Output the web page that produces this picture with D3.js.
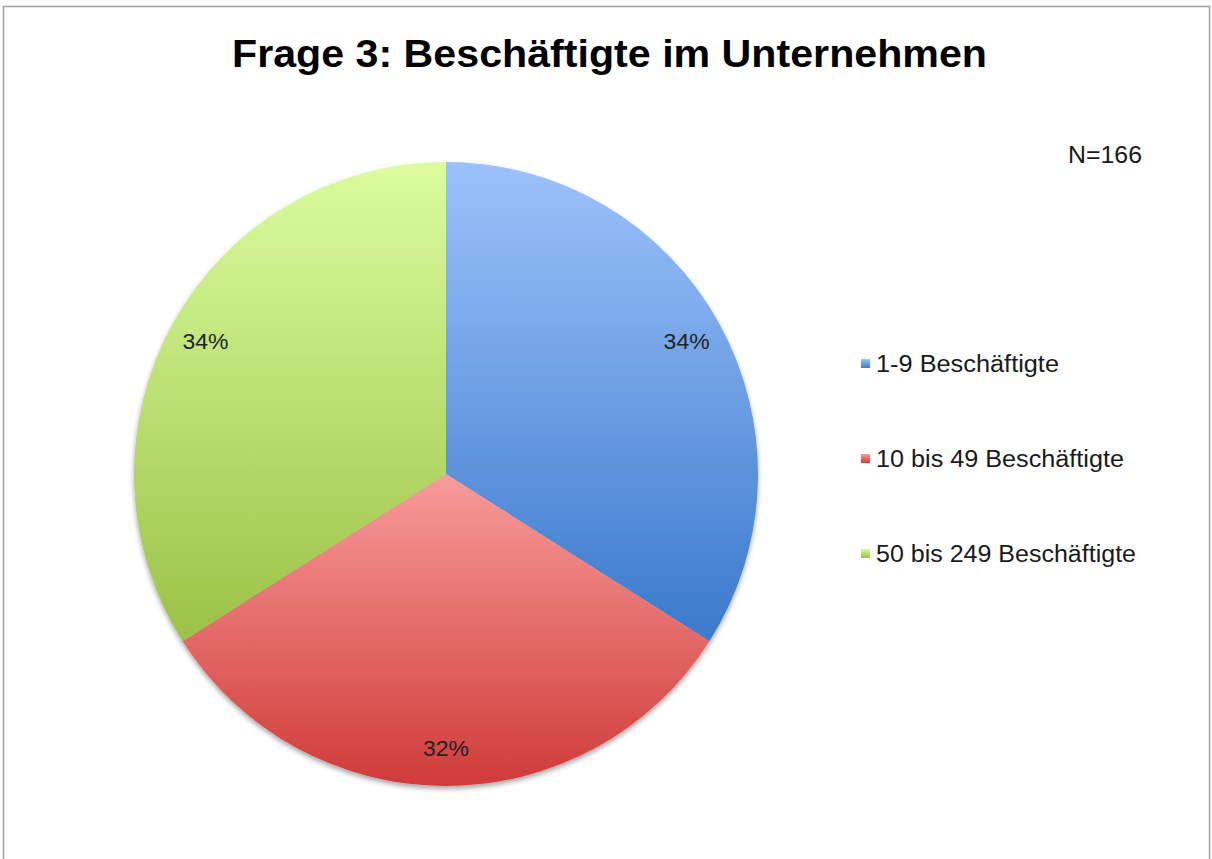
<html>
<head>
	<meta charset="utf-8">
	<title>Frage 3: Beschäftigte im Unternehmen</title>
	<script src="https://d3js.org/d3.v7.min.js"></script>
</head>
<body>
	<style> *{
		margin: 0px;
		padding: 0px;
	}
	body { background: #fff; }
	text { font-family: "Liberation Sans", Arial, sans-serif; }
	</style>

	<svg id="SVGcanvas" xmlns="http://www.w3.org/2000/svg" width="1212" height="859">
	</svg>

	<script>
	// chart data
	var categories = ["1-9 Beschäftigte", "10 bis 49 Beschäftigte", "50 bis 249 Beschäftigte"];
	var percentValues = [34, 32, 34];
	var titleText = "Frage 3: Beschäftigte im Unternehmen";
	var noteText = "N=166";

	// top / bottom colours of each slice gradient
	var topColors = ["#9cc2fa", "#f89c9a", "#dcfc9e"];
	var bottomColors = ["#3a79cc", "#cf3b39", "#9bc247"];

	var svg = d3.select( "#SVGcanvas" );
	var defs = svg.append( "defs" );

	// soft shadow under the pie
	var shadow = defs.append( "filter" ).attr( "id", "pieShadow" )
		.attr( "x", "-10%" ).attr( "y", "-10%" ).attr( "width", "120%" ).attr( "height", "120%" );
	shadow.append( "feDropShadow" )
		.attr( "dx", 0 ).attr( "dy", 3 ).attr( "stdDeviation", 2.5 )
		.attr( "flood-color", "#000" ).attr( "flood-opacity", 0.35 );

	categories.forEach( function ( c, i ) {
		var g = defs.append( "linearGradient" ).attr( "id", "grad" + i )
			.attr( "x1", 0 ).attr( "y1", 0 ).attr( "x2", 0 ).attr( "y2", 1 );
		g.append( "stop" ).attr( "offset", "0%" ).attr( "stop-color", topColors[i] );
		g.append( "stop" ).attr( "offset", "100%" ).attr( "stop-color", bottomColors[i] );
	});

	// chart frame
	svg.append( "rect" )
		.attr( "x", 3.5 ).attr( "y", 6.5 )
		.attr( "width", 1206 ).attr( "height", 880 )
		.attr( "fill", "#fff" )
		.attr( "stroke", "#a0a0a0" ).attr( "stroke-width", 1.5 );

	// title
	svg.append( "text" )
		.attr( "x", 232 ).attr( "y", 67 )
		.attr( "font-size", 39 ).attr( "font-weight", "bold" )
		.attr( "textLength", 755 ).attr( "lengthAdjust", "spacingAndGlyphs" )
		.attr( "fill", "#000" )
		.text( titleText );

	// N note
	svg.append( "text" )
		.attr( "x", 1068 ).attr( "y", 163 )
		.attr( "font-size", 23 )
		.attr( "textLength", 74 ).attr( "lengthAdjust", "spacingAndGlyphs" )
		.attr( "fill", "#1a1a1a" )
		.text( noteText );

	// pie
	var cx = 446, cy = 474, radius = 312;
	var pie = d3.pie().sort( null ).value( function ( d ) { return d; } );
	var arc = d3.arc().innerRadius( 0 ).outerRadius( radius );
	var labelArc = d3.arc().innerRadius( radius * 0.88 ).outerRadius( radius * 0.88 );
	var arcs = pie( percentValues );

	var pieGroup = svg.append( "g" ).attr( "transform", "translate(" + cx + "," + cy + ")" );

	pieGroup.append( "g" ).attr( "filter", "url(#pieShadow)" )
		.selectAll( "path" )
		.data( arcs )
		.enter()
		.append( "path" )
		.attr( "d", arc )
		.attr( "fill", function ( d, i ) { return "url(#grad" + i + ")"; } );

	pieGroup.selectAll( "text.pct" )
		.data( arcs )
		.enter()
		.append( "text" )
		.attr( "class", "pct" )
		.attr( "transform", function ( d ) {
			var c = labelArc.centroid( d );
			return "translate(" + c[0] + "," + ( c[1] + 7 ) + ")";
		})
		.attr( "text-anchor", "middle" )
		.attr( "font-size", 22 )
		.attr( "textLength", 46 ).attr( "lengthAdjust", "spacingAndGlyphs" )
		.attr( "fill", "#222" )
		.text( function ( d ) { return d.data + "%"; } );

	// legend
	var legendX = 861, legendY = 372, legendStep = 95;
	var legend = svg.selectAll( "g.legend" )
		.data( categories )
		.enter()
		.append( "g" )
		.attr( "class", "legend" )
		.attr( "transform", function ( d, i ) { return "translate(" + legendX + "," + ( legendY + i * legendStep ) + ")"; } );

	legend.append( "rect" )
		.attr( "x", 0 ).attr( "y", -13 )
		.attr( "width", 9 ).attr( "height", 9 )
		.attr( "fill", function ( d, i ) { return "url(#grad" + i + ")"; } );

	var legendWidths = [183, 248, 260];
	legend.append( "text" )
		.attr( "x", 15 ).attr( "y", 0 )
		.attr( "font-size", 23 )
		.attr( "textLength", function ( d, i ) { return legendWidths[i]; } )
		.attr( "lengthAdjust", "spacingAndGlyphs" )
		.attr( "fill", "#1a1a1a" )
		.text( function ( d ) { return d; } );
	</script>

</body>
</html>
